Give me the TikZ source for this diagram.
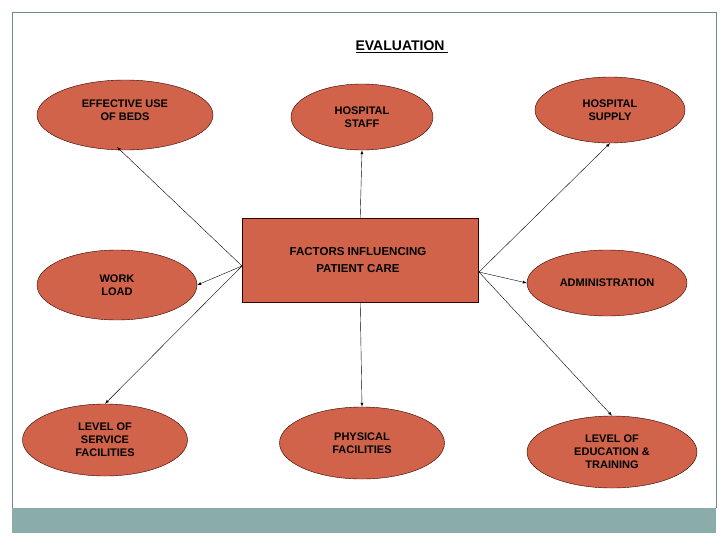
\documentclass[tikz,border=0pt]{standalone}
\usepackage{fontspec}
\setmainfont{Liberation Sans}
\usetikzlibrary{shapes.geometric}
\definecolor{fillc}{RGB}{208,99,74}
\definecolor{bandc}{RGB}{138,172,170}
\begin{document}
\begin{tikzpicture}[x=1pt,y=-1pt,
  el/.style={ellipse,draw=black!80!red,fill=fillc,inner sep=0pt,font=\bfseries\fontsize{11}{13}\selectfont,align=center},
  arr/.style={-latex,thin}]
\useasboundingbox (0,0) rectangle (728,546);
\fill[white] (0,0) rectangle (728,546);
\draw[bandc!80!black,thin] (12,508) -- (12,12) -- (716,12) -- (716,508);
\fill[bandc] (12,508) rectangle (716,533);
\node[font=\bfseries\fontsize{14}{16}\selectfont] (title) at (402,47) {\underline{EVALUATION\ }};
\node[draw=black!80!red,fill=fillc,minimum width=236,minimum height=84,anchor=north west,inner sep=0pt] (box) at (242,218) {};
\node[font=\bfseries\fontsize{11.5}{17}\selectfont,align=center] (boxt) at (358,260) {FACTORS INFLUENCING\\PATIENT CARE};
\node[el,minimum width=176,minimum height=70] (beds) at (125,115) {EFFECTIVE USE\\OF BEDS\\[-4pt]};
\node[el,minimum width=142,minimum height=66] (staff) at (362,117) {HOSPITAL\\STAFF};
\node[el,minimum width=150,minimum height=66] (supply) at (610,110) {HOSPITAL\\SUPPLY};
\node[el,minimum width=160,minimum height=70] (work) at (117,285) {WORK\\LOAD};
\node[el,minimum width=160,minimum height=66] (admin) at (607,283) {ADMINISTRATION};
\node[el,minimum width=165,minimum height=72] (service) at (105,440) {LEVEL OF\\SERVICE\\FACILITIES};
\node[el,minimum width=165,minimum height=72] (phys) at (362,443) {PHYSICAL\\FACILITIES};
\node[el,minimum width=170,minimum height=72] (edu) at (612,452) {LEVEL OF\\EDUCATION \&\\TRAINING};
\coordinate (L) at (242,266);
\coordinate (R) at (479,272);
\draw[arr] (L) -- (117,147) coordinate (a1);
\draw[arr] (box.north) -- (staff.south);
\draw[arr] (R) -- (supply.south);
\draw[arr] (L) -- (work.east);
\draw[arr] (R) -- (admin.west);
\draw[arr] (L) -- (service.north);
\draw[arr] (box.south) -- (phys.north);
\draw[arr] (R) -- (edu.north);
\end{tikzpicture}
\end{document}
